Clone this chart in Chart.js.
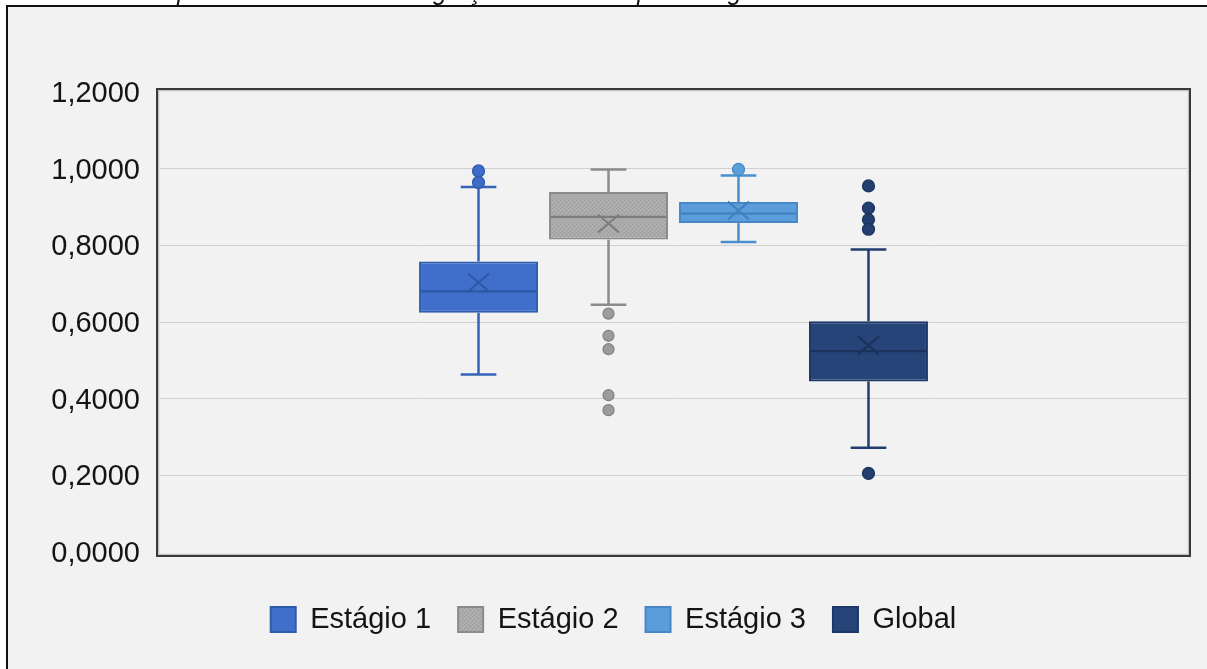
<!DOCTYPE html>
<html>
<head>
<meta charset="utf-8">
<script src="https://cdn.jsdelivr.net/npm/chart.js@4.4.1/dist/chart.umd.min.js"></script>
<style>
html,body{margin:0;padding:0;background:#ffffff;overflow:hidden}
#wrap{position:relative;width:1207px;height:669px;overflow:hidden}
#frame{position:absolute;left:6px;top:5px;width:1230px;height:700px;border-top:2px solid #111;border-left:2px solid #111;background:#f2f2f2}
#c{position:absolute;left:0;top:0}
#title{position:absolute;left:5px;top:-19px;font:italic 25px "Liberation Sans",Arial,sans-serif;line-height:20px;white-space:nowrap;color:#111}
</style>
</head>
<body>
<div id="wrap">
  <div id="frame"></div>
  <canvas id="c" width="1207" height="669"></canvas>
  <div id="title">Gráfico 3 – Boxplot dos índices de integração – Global e por estágio</div>
</div>
<script>
// ---- data ----
const seriesNames = ['Estágio 1', 'Estágio 2', 'Estágio 3', 'Global'];
const xLabels = [''];
const whiskerMin = [0.463, 0.645, 0.809, 0.272];
const q1 = [0.624, 0.815, 0.858, 0.445];
const median = [0.680, 0.874, 0.883, 0.524];
const q3 = [0.758, 0.939, 0.913, 0.602];
const whiskerMax = [0.952, 0.998, 0.982, 0.789];
const mean = [0.703, 0.857, 0.891, 0.539];
const outliers1 = [0.994, 0.964];
const outliers2 = [0.622, 0.564, 0.529, 0.409, 0.370];
const outliers3 = [0.998];
const outliers4 = [0.955, 0.897, 0.867, 0.842, 0.205];
const yTickLabels = ['0,0000', '0,2000', '0,4000', '0,6000', '0,8000', '1,0000', '1,2000'];

// ---- styles ----
const canvas = document.getElementById('c');
const mainCtx = canvas.getContext('2d');
function makeGrayPattern() {
  const p = document.createElement('canvas');
  p.width = 4; p.height = 4;
  const g = p.getContext('2d');
  g.fillStyle = '#aaaaaa'; g.fillRect(0, 0, 4, 4);
  g.fillStyle = '#9a9a9a';
  g.fillRect(0, 0, 1, 1); g.fillRect(2, 2, 1, 1);
  g.fillStyle = '#b6b6b6';
  g.fillRect(2, 0, 1, 1); g.fillRect(0, 2, 1, 1);
  return mainCtx.createPattern(p, 'repeat');
}
const fills = ['#3f6fcb', makeGrayPattern(), '#5a9dda', '#264478'];
const borders = ['#2f5cad', '#8a8a8a', '#4688c7', '#1d3866'];
const whiskerColors = ['#3463b9', '#8c8c8c', '#4a8ed0', '#213d6d'];
const medianColors = ['#2c57a3', '#7c7c7c', '#3f7fbf', '#1a325c'];
const outlierFill = ['#3c6cc8', '#9c9c9c', '#5aa0dc', '#223f70'];
const outlierStroke = ['#2f5aa8', '#808080', '#4588c6', '#1b345f'];
const allOutliers = [outliers1, outliers2, outliers3, outliers4];

Chart.defaults.font.family = '"Liberation Sans", Arial, sans-serif';

const decorPlugin = {
  id: 'decor',
  afterDatasetsDraw(chart) {
    const ctx = chart.ctx, ys = chart.scales.y;
    chart.data.datasets.forEach((ds, i) => {
      const el = chart.getDatasetMeta(i).data[0];
      const x = el.x, w = el.width;
      const cap = w * 0.3;
      const line = (x1, y1, x2, y2) => { ctx.beginPath(); ctx.moveTo(x1, y1); ctx.lineTo(x2, y2); ctx.stroke(); };
      ctx.save();
      ctx.lineCap = 'butt';
      ctx.strokeStyle = whiskerColors[i];
      ctx.lineWidth = 2.5;
      const yMax = ys.getPixelForValue(whiskerMax[i]);
      const yMin = ys.getPixelForValue(whiskerMin[i]);
      const yQ3 = ys.getPixelForValue(q3[i]);
      const yQ1 = ys.getPixelForValue(q1[i]);
      line(x, yQ3, x, yMax);
      line(x - cap / 2, yMax, x + cap / 2, yMax);
      line(x, yQ1, x, yMin);
      line(x - cap / 2, yMin, x + cap / 2, yMin);
      // median
      ctx.strokeStyle = medianColors[i];
      ctx.lineWidth = 2.2;
      const yMed = ys.getPixelForValue(median[i]);
      line(x - w / 2 + 2, yMed, x + w / 2 - 2, yMed);
      // mean marker (X)
      const yMean = ys.getPixelForValue(mean[i]);
      ctx.lineWidth = 2;
      line(x - 10.5, yMean - 9, x + 10.5, yMean + 9);
      line(x - 10.5, yMean + 9, x + 10.5, yMean - 9);
      // outliers
      ctx.fillStyle = outlierFill[i];
      ctx.strokeStyle = outlierStroke[i];
      ctx.lineWidth = 1.2;
      const r = i === 1 ? 5.5 : 6;
      allOutliers[i].forEach(v => {
        ctx.beginPath();
        ctx.arc(x, ys.getPixelForValue(v), r, 0, Math.PI * 2);
        ctx.fill();
        ctx.stroke();
      });
      ctx.restore();
    });
  },
  afterDraw(chart) {
    const ctx = chart.ctx, a = chart.chartArea;
    const L = a.left - 2, T = a.top - 2, R = a.right + 2, B = a.bottom + 3;
    ctx.save();
    ctx.strokeStyle = '#c4c4c4';
    ctx.lineWidth = 1.5;
    ctx.strokeRect(L + 0.5, T + 0.5, R - L - 1, B - T - 1);
    ctx.strokeStyle = '#3a3a3a';
    ctx.lineWidth = 2;
    ctx.strokeRect(L - 1, T - 1, R - L + 2, B - T + 2);
    ctx.restore();
  }
};

new Chart(canvas, {
  type: 'bar',
  data: {
    labels: xLabels,
    datasets: seriesNames.map((n, i) => ({
      label: n,
      data: [[q1[i], q3[i]]],
      backgroundColor: fills[i],
      borderColor: borders[i],
      borderWidth: 2,
      borderSkipped: false,
      categoryPercentage: 0.5063,
      barPercentage: 0.915
    }))
  },
  options: {
    responsive: false,
    animation: false,
    layout: { padding: { left: 40, right: 20, top: 92, bottom: 25 } },
    plugins: {
      tooltip: { enabled: false },
      title: { display: false },
      legend: {
        position: 'bottom',
        labels: {
          boxWidth: 25,
          boxHeight: 25,
          padding: 27,
          color: '#141414',
          font: { size: 29 }
        }
      }
    },
    scales: {
      x: {
        display: true,
        grid: { display: false },
        border: { display: false },
        ticks: { display: false },
        afterFit: s => { s.height = 26; }
      },
      y: {
        min: 0,
        max: 1.2,
        ticks: {
          stepSize: 0.2,
          padding: 20,
          labelOffset: 2,
          color: '#141414',
          font: { size: 29 },
          callback: (v, i) => yTickLabels[i]
        },
        grid: {
          drawTicks: false,
          color: c => (c.index === 0 || c.index === yTickLabels.length - 1) ? 'rgba(0,0,0,0)' : '#d0d0d0',
          lineWidth: 1
        },
        border: { display: false },
        afterFit: s => { s.width = 120; }
      }
    }
  },
  plugins: [decorPlugin]
});
</script>
</body>
</html>
